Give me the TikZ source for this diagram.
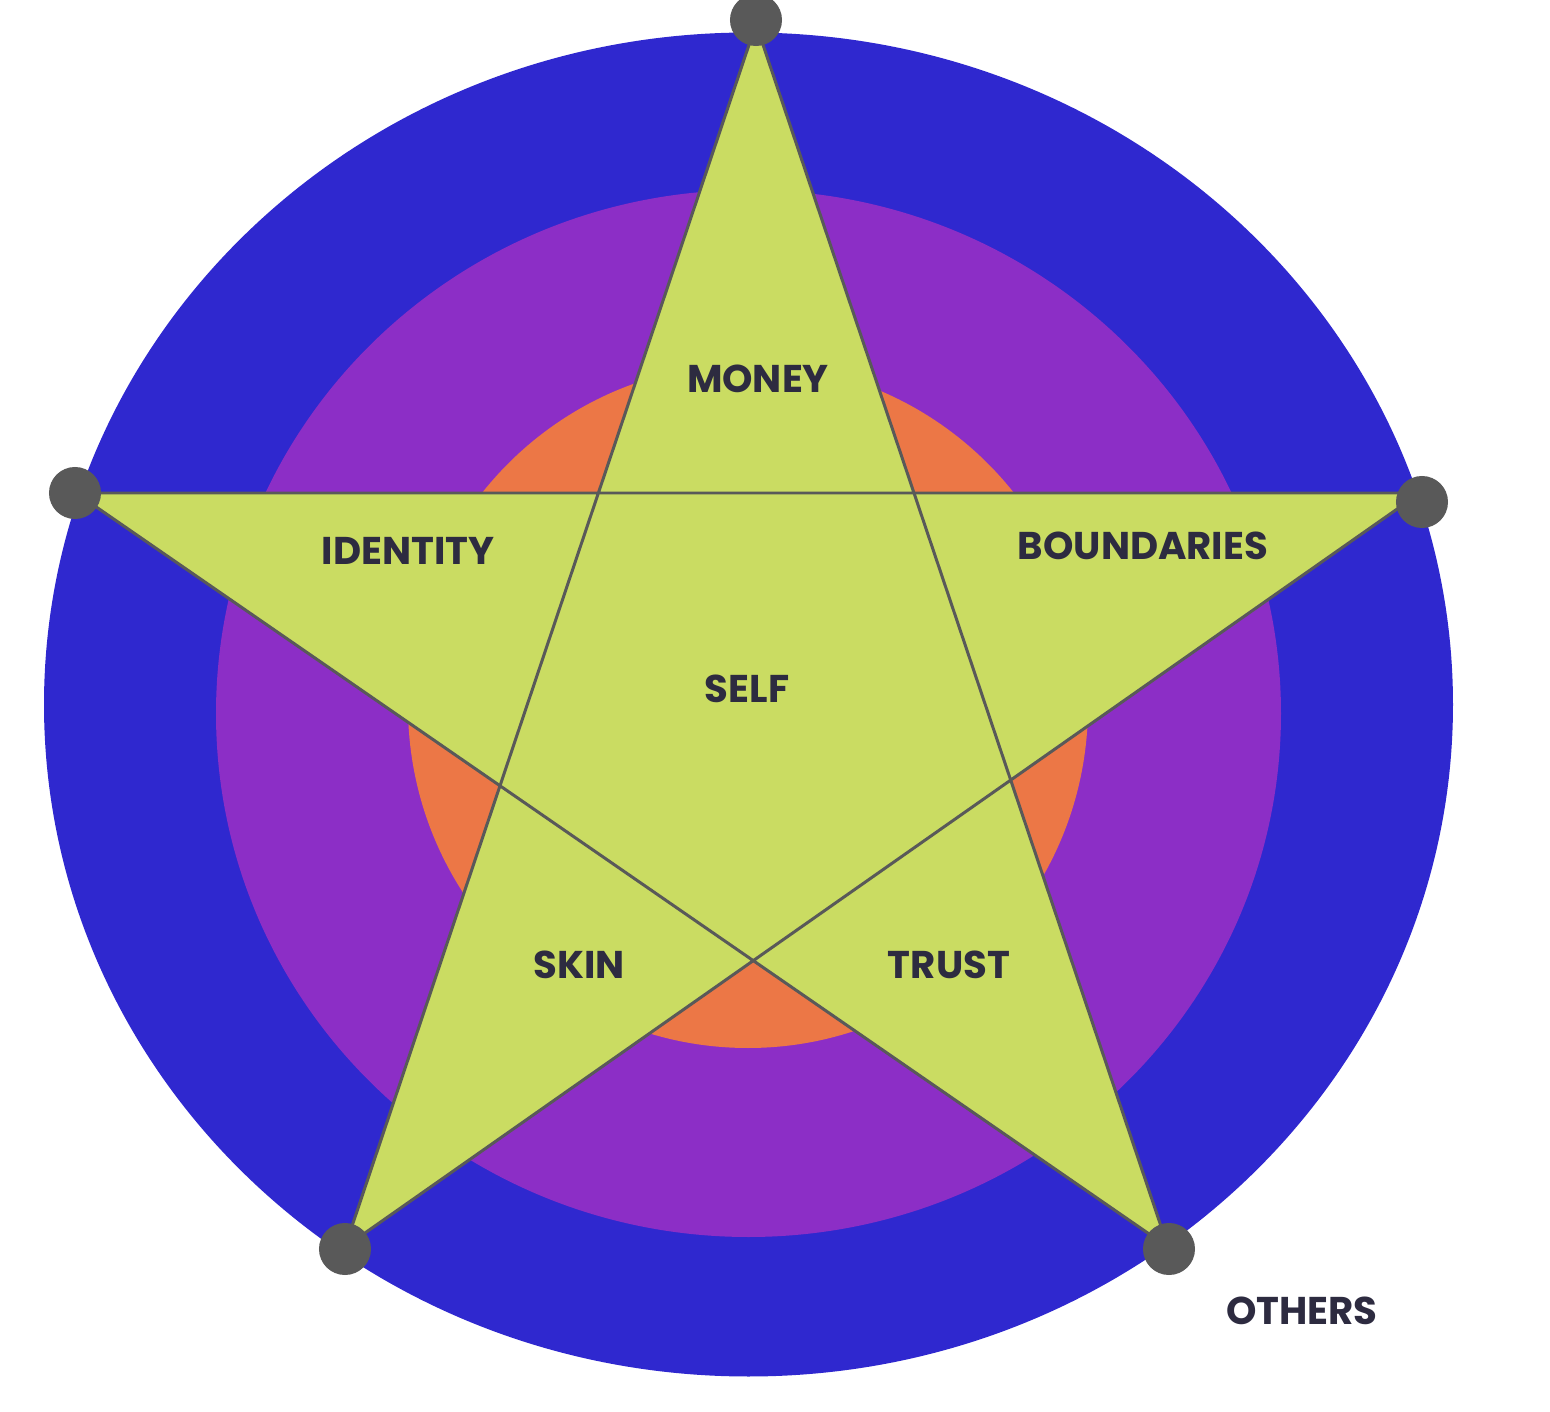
\documentclass[tikz,border=0pt]{standalone}
\usepackage{fontspec}
\setmainfont{Poppins}
\definecolor{ringblue}{RGB}{47,40,207}
\definecolor{ringpurple}{RGB}{140,46,198}
\definecolor{ringorange}{RGB}{236,119,70}
\definecolor{stargreen}{RGB}{202,220,98}
\definecolor{pingray}{RGB}{89,89,89}
\definecolor{labeldark}{RGB}{45,43,64}
\usetikzlibrary{positioning}

\begin{document}
\begin{tikzpicture}[x=0.01cm,y=-0.01cm,
  pin/.style={circle,fill=pingray,inner sep=0pt,minimum size=0.52cm},
  word/.style={font=\fontsize{11pt}{13pt}\selectfont\bfseries,text=labeldark,inner sep=1pt}]
  \useasboundingbox (0,0) rectangle (1550,1412);
  % rings
  \fill[ringblue] (748.5,704.5) ellipse [x radius=704.5,y radius=672];
  \fill[ringpurple] (748.5,713.5) ellipse [x radius=532.5,y radius=523.5];
  \fill[ringorange] (748,706) ellipse [x radius=340,y radius=342];
  % star points
  \coordinate (top) at (756,24);
  \coordinate (left) at (76,493);
  \coordinate (right) at (1420,493);
  \coordinate (botl) at (345,1247);
  \coordinate (botr) at (1168,1247);
  \filldraw[fill=stargreen,draw=pingray,line width=0.85pt,line join=round]
    (top) -- (botl) -- (right) -- (left) -- (botr) -- cycle;
  % pins
  \node[pin] (ptop) at (756,20) {};
  \node[pin] (pleft) at (75,493) {};
  \node[pin] (pright) at (1422,502) {};
  \node[pin] (pbotl) at (345,1249) {};
  \node[pin] (pbotr) at (1169,1249) {};
  % labels
  \node[word] (money) at (758,379) {MONEY};
  \node[word] (identity) at (408,551) {IDENTITY};
  \node[word] (boundaries) at (1143,546) {BOUNDARIES};
  \node[word] (self) at (747,689) {SELF};
  \node[word] (skin) at (579,965) {SKIN};
  \node[word] (trust) at (949,965) {TRUST};
  \node[word] (others) at (1302,1311) {OTHERS};
\end{tikzpicture}
\end{document}
